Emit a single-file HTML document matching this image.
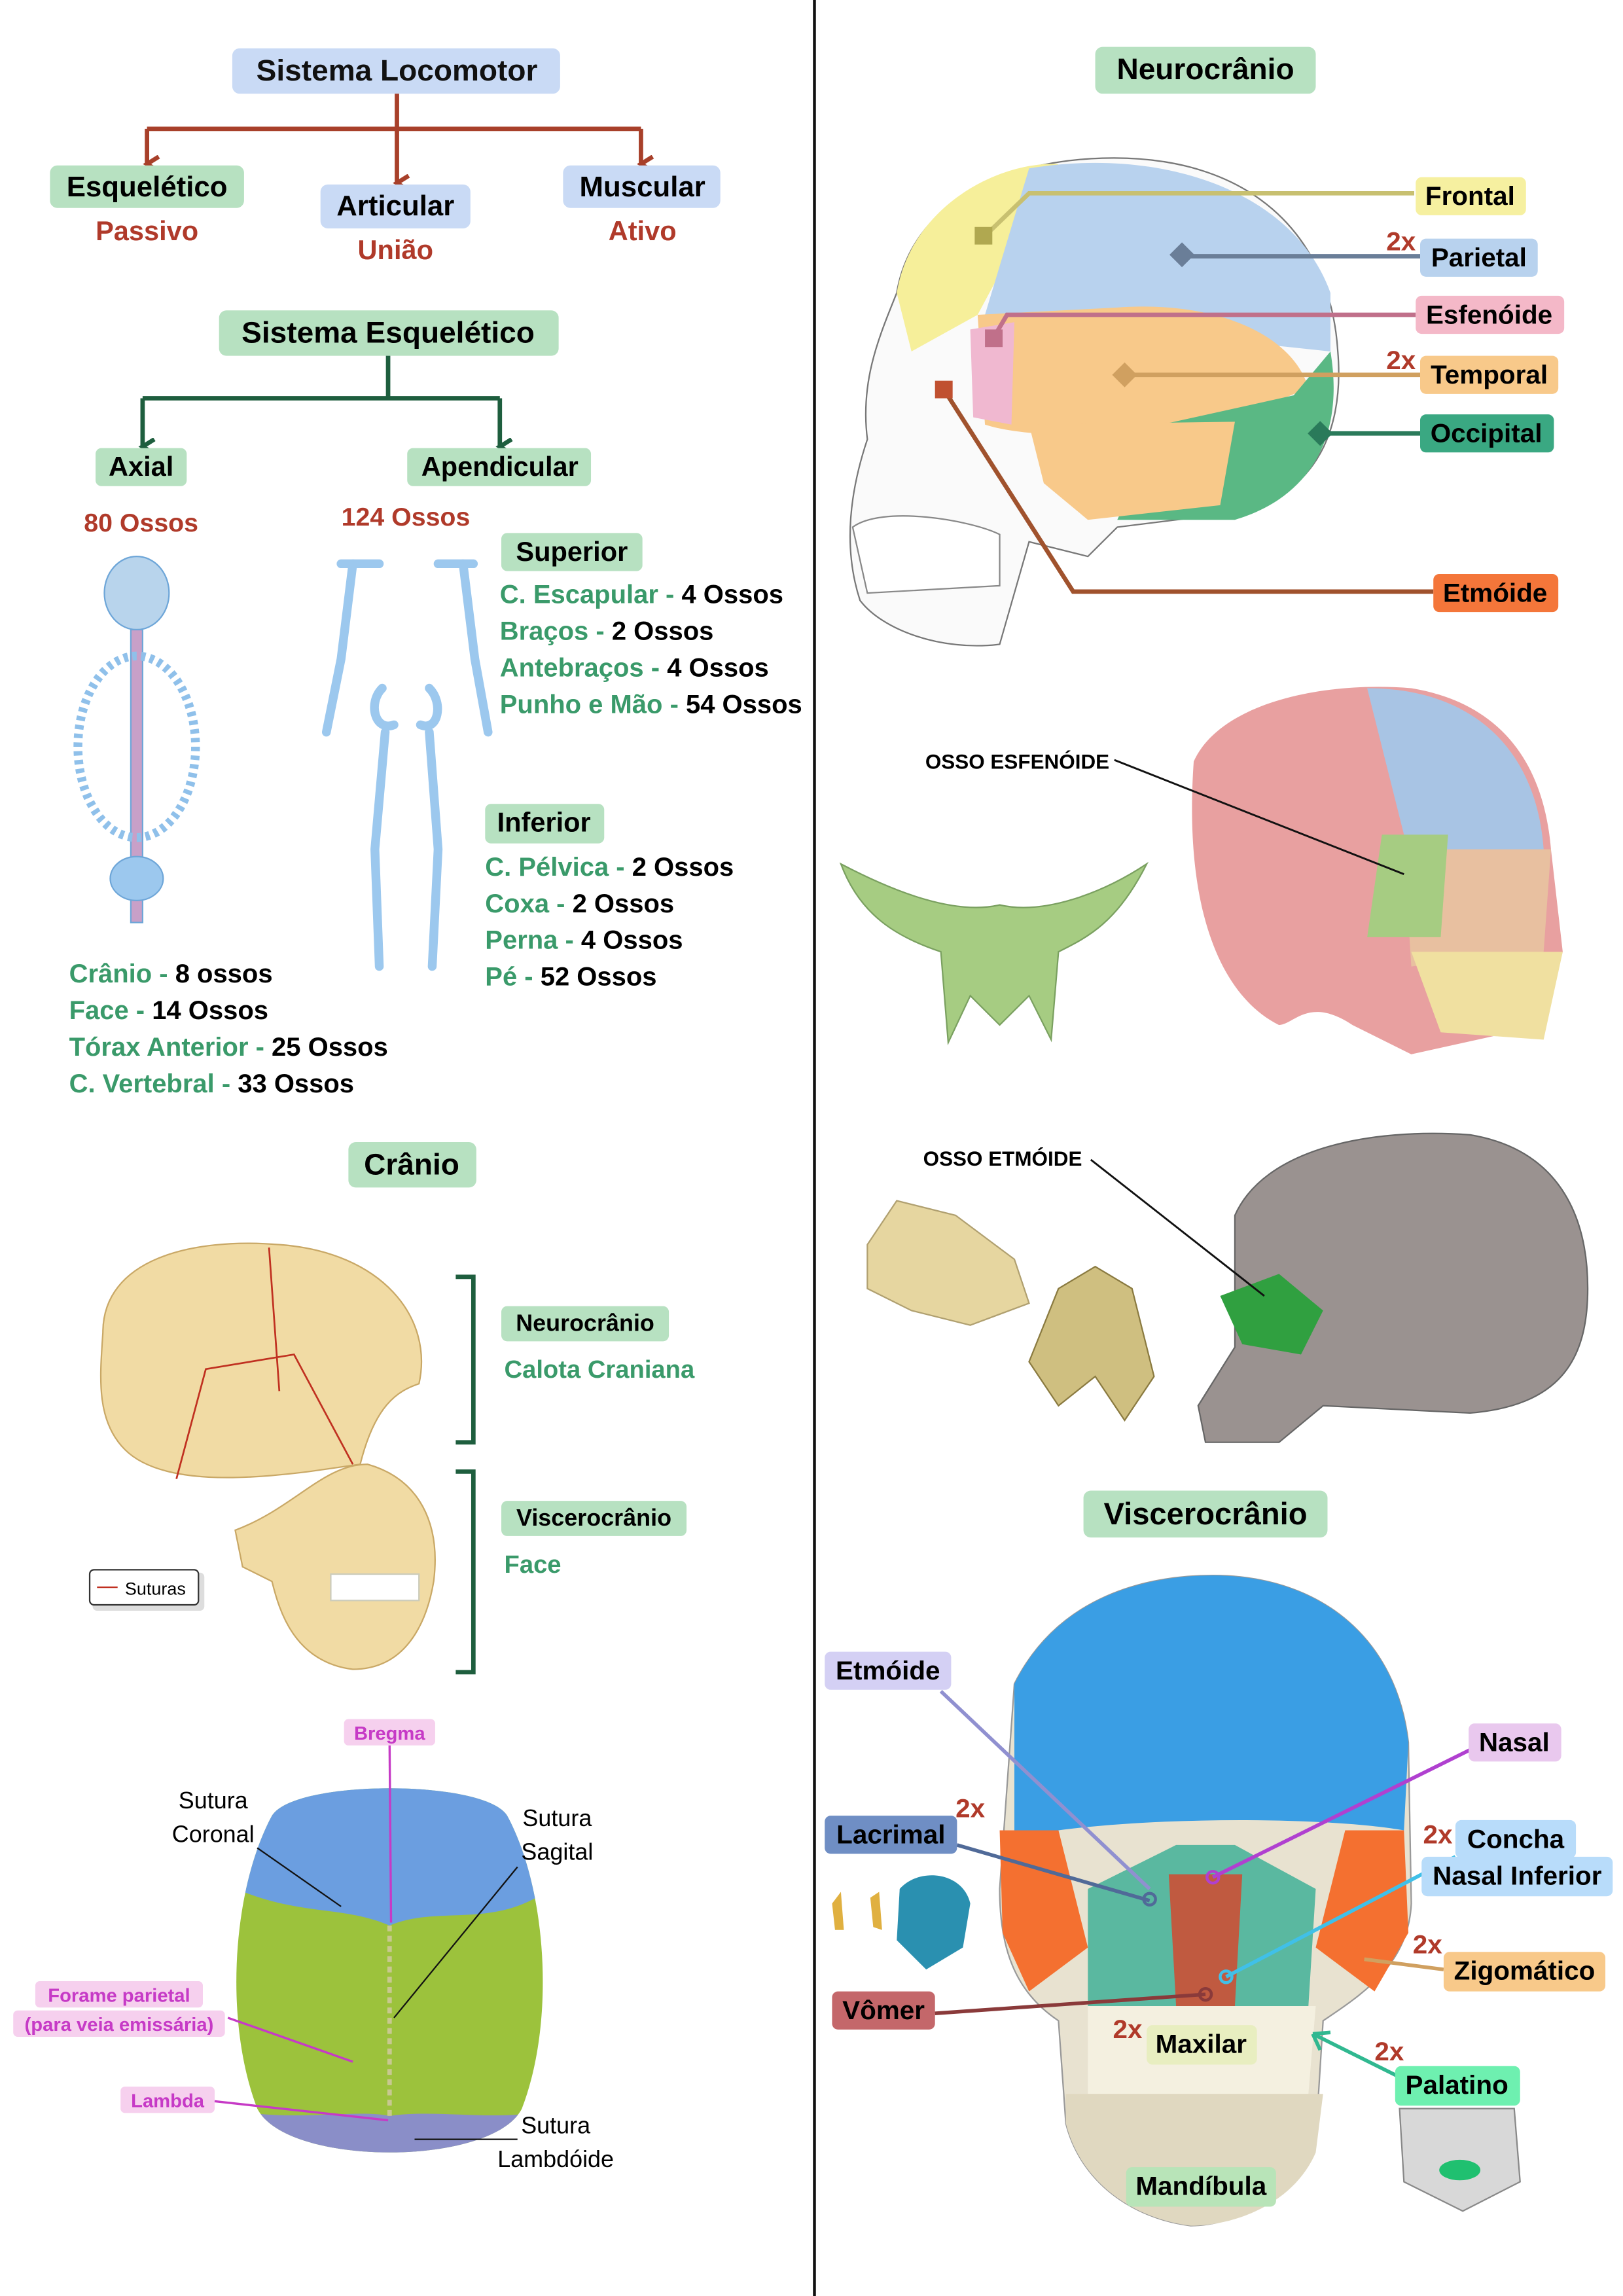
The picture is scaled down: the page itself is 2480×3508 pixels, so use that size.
<!DOCTYPE html>
<html><head><meta charset="utf-8">
<style>
html,body{margin:0;padding:0;background:#fff;}
svg{display:block;}
text{font-family:"Liberation Sans",sans-serif;}
.b{font-weight:bold;}
</style></head>
<body>
<svg width="2480" height="3508" viewBox="0 0 1104 1568" preserveAspectRatio="none" xmlns="http://www.w3.org/2000/svg">
<defs>
<marker id="ar" markerWidth="14" markerHeight="12" refX="6" refY="9" orient="auto" markerUnits="userSpaceOnUse"><path d="M1,1 L6,9 L11,1" fill="none" stroke="#a8402a" stroke-width="3"/></marker>
<marker id="ag" markerWidth="14" markerHeight="12" refX="6" refY="9" orient="auto" markerUnits="userSpaceOnUse"><path d="M1,1 L6,9 L11,1" fill="none" stroke="#1e5e3e" stroke-width="3"/></marker>
</defs>
<rect width="1104" height="1568" fill="#fff"/>
<line x1="554" y1="0" x2="554" y2="1568" stroke="#111" stroke-width="2"/>

<!-- LEFT TOP -->
<rect x="158" y="33" width="223" height="31" rx="5" fill="#c9daf5"/>
<text x="270" y="55" text-anchor="middle" font-size="20.5" class="b" fill="#111">Sistema Locomotor</text>
<g stroke="#a8402a" stroke-width="3" fill="none">
<path d="M270,64 V88 M100,88 H436"/>
<path d="M100,88 V112" marker-end="url(#ar)"/><path d="M270,88 V125" marker-end="url(#ar)"/><path d="M436,88 V112" marker-end="url(#ar)"/>
</g>
<rect x="34" y="113" width="132" height="29" rx="5" fill="#b7e1c1"/>
<text x="100" y="134" text-anchor="middle" font-size="19.5" class="b">Esquelético</text>
<text x="100" y="164" text-anchor="middle" font-size="18.5" class="b" fill="#b03a2a">Passivo</text>
<rect x="218" y="126" width="102" height="30" rx="5" fill="#c9daf5"/>
<text x="269" y="147" text-anchor="middle" font-size="19.5" class="b">Articular</text>
<text x="269" y="177" text-anchor="middle" font-size="18.5" class="b" fill="#b03a2a">União</text>
<rect x="383" y="113" width="107" height="29" rx="5" fill="#c9daf5"/>
<text x="437" y="134" text-anchor="middle" font-size="19.5" class="b">Muscular</text>
<text x="437" y="164" text-anchor="middle" font-size="18.5" class="b" fill="#b03a2a">Ativo</text>

<rect x="149" y="212" width="231" height="31" rx="5" fill="#b7e1c1"/>
<text x="264" y="234" text-anchor="middle" font-size="20.5" class="b">Sistema Esquelético</text>
<g stroke="#1e5e3e" stroke-width="3" fill="none">
<path d="M264,243 V272 M97,272 H340"/>
<path d="M97,272 V305" marker-end="url(#ag)"/><path d="M340,272 V305" marker-end="url(#ag)"/>
</g>
<rect x="65" y="306" width="62" height="26" rx="4" fill="#b7e1c1"/>
<text x="96" y="325" text-anchor="middle" font-size="18.5" class="b">Axial</text>
<rect x="277" y="306" width="125" height="26" rx="4" fill="#b7e1c1"/>
<text x="340" y="325" text-anchor="middle" font-size="18.5" class="b">Apendicular</text>
<text x="96" y="363" text-anchor="middle" font-size="17.5" class="b" fill="#b03a2a">80 Ossos</text>
<text x="276" y="359" text-anchor="middle" font-size="17.5" class="b" fill="#b03a2a">124 Ossos</text>

<!-- axial skeleton -->
<g fill="#9cc8ee" stroke="#6ea6d8" stroke-width="1">
<ellipse cx="93" cy="405" rx="22" ry="25" fill="#b8d4ec"/>
<rect x="89" y="430" width="8" height="200" fill="#c8a0c8"/>
<ellipse cx="93" cy="510" rx="40" ry="62" fill="none" stroke="#8fc0ea" stroke-width="6" stroke-dasharray="3 3"/>
<ellipse cx="93" cy="600" rx="18" ry="15"/>
</g>
<!-- appendicular skeleton -->
<g fill="none" stroke="#9cc8ee" stroke-width="6" stroke-linecap="round">
<path d="M240,385 L232,450 L222,500 M315,385 L323,450 L332,500"/>
<path d="M260,470 C250,480 255,500 268,495 M292,470 C302,480 298,500 286,495"/>
<path d="M262,500 L255,580 L258,660 M292,500 L298,580 L294,660"/>
<path d="M232,385 L258,385 M298,385 L322,385"/>
</g>

<rect x="341" y="364" width="96" height="26" rx="4" fill="#b7e1c1"/>
<text x="389" y="383" text-anchor="middle" font-size="18.5" class="b">Superior</text>
<g font-size="17.8" class="b">
<text x="340" y="412"><tspan fill="#3a9a6a">C. Escapular - </tspan>4 Ossos</text>
<text x="340" y="437"><tspan fill="#3a9a6a">Braços - </tspan>2 Ossos</text>
<text x="340" y="462"><tspan fill="#3a9a6a">Antebraços - </tspan>4 Ossos</text>
<text x="340" y="487"><tspan fill="#3a9a6a">Punho e Mão - </tspan>54 Ossos</text>
</g>
<rect x="330" y="549" width="81" height="27" rx="4" fill="#b7e1c1"/>
<text x="370" y="568" text-anchor="middle" font-size="18.5" class="b">Inferior</text>
<g font-size="17.8" class="b">
<text x="330" y="598"><tspan fill="#3a9a6a">C. Pélvica - </tspan>2 Ossos</text>
<text x="330" y="623"><tspan fill="#3a9a6a">Coxa - </tspan>2 Ossos</text>
<text x="330" y="648"><tspan fill="#3a9a6a">Perna - </tspan>4 Ossos</text>
<text x="330" y="673"><tspan fill="#3a9a6a">Pé - </tspan>52 Ossos</text>
<text x="47" y="671"><tspan fill="#3a9a6a">Crânio - </tspan>8 ossos</text>
<text x="47" y="696"><tspan fill="#3a9a6a">Face - </tspan>14 Ossos</text>
<text x="47" y="721"><tspan fill="#3a9a6a">Tórax Anterior - </tspan>25 Ossos</text>
<text x="47" y="746"><tspan fill="#3a9a6a">C. Vertebral - </tspan>33 Ossos</text>
</g>

<!-- Cranio -->
<rect x="237" y="780" width="87" height="31" rx="5" fill="#b7e1c1"/>
<text x="280" y="802" text-anchor="middle" font-size="20.5" class="b">Crânio</text>
<path d="M70,910 C70,860 130,845 190,850 C260,855 295,900 285,945 C270,950 255,960 245,1000 L210,1005 C170,1010 110,1015 85,990 C65,970 68,940 70,910Z" fill="#f1dba4" stroke="#c9a866"/>
<path d="M183,852 L190,950 M120,1010 L140,935 L200,925 L240,1000" fill="none" stroke="#c03020" stroke-width="1.2"/>
<path d="M160,1045 C200,1030 220,1000 250,1000 C285,1010 300,1040 295,1080 C290,1110 275,1140 240,1140 C200,1135 190,1100 185,1080 L165,1070Z" fill="#f1dba4" stroke="#c9a866"/>
<rect x="225" y="1075" width="60" height="18" fill="#fff" stroke="#ccb"/>
<g fill="none" stroke="#1e5e3e" stroke-width="3">
<path d="M310,872 H322 V985 H310"/><path d="M310,1005 H322 V1142 H310"/>
</g>
<rect x="341" y="892" width="114" height="24" rx="4" fill="#b7e1c1"/>
<text x="398" y="909" text-anchor="middle" font-size="16" class="b">Neurocrânio</text>
<text x="343" y="941" font-size="17" class="b" fill="#3a9a6a">Calota Craniana</text>
<rect x="341" y="1025" width="126" height="24" rx="4" fill="#b7e1c1"/>
<text x="404" y="1042" text-anchor="middle" font-size="16" class="b">Viscerocrânio</text>
<text x="343" y="1074" font-size="17" class="b" fill="#3a9a6a">Face</text>
<rect x="63" y="1074" width="76" height="26" rx="3" fill="#ddd"/>
<rect x="61" y="1072" width="74" height="24" rx="3" fill="#fff" stroke="#333"/>
<line x1="66" y1="1084" x2="80" y2="1084" stroke="#c03020"/>
<text x="85" y="1089" font-size="12">Suturas</text>

<!-- top view skull -->
<rect x="234" y="1174" width="62" height="18" rx="3" fill="#f6d0ee"/>
<text x="265" y="1188" text-anchor="middle" font-size="13" class="b" fill="#c63ac6">Bregma</text>
<clipPath id="sk"><path d="M185,1240 C200,1215 330,1215 345,1240 C372,1290 378,1380 355,1440 C335,1480 195,1480 175,1440 C152,1380 158,1290 185,1240Z"/></clipPath>
<g clip-path="url(#sk)">
<rect x="150" y="1210" width="230" height="280" fill="#9cc23c"/>
<path d="M150,1210 H380 V1285 C340,1320 300,1300 265,1315 C230,1300 200,1310 150,1285Z" fill="#6b9ee0"/>
<path d="M150,1440 C200,1450 240,1440 265,1445 C300,1440 340,1450 380,1440 V1490 H150Z" fill="#8a8ec8"/>
</g>
<path d="M265,1315 L265,1445" stroke="#c8c890" stroke-width="3" stroke-dasharray="4 3"/>
<text x="145" y="1235" text-anchor="middle" font-size="16">Sutura</text>
<text x="145" y="1258" text-anchor="middle" font-size="16">Coronal</text>
<line x1="175" y1="1262" x2="232" y2="1302" stroke="#111"/>
<text x="379" y="1247" text-anchor="middle" font-size="16">Sutura</text>
<text x="379" y="1270" text-anchor="middle" font-size="16">Sagital</text>
<line x1="352" y1="1275" x2="268" y2="1378" stroke="#111"/>
<line x1="265" y1="1192" x2="266" y2="1313" stroke="#c63ac6" stroke-width="1.5"/>
<rect x="24" y="1353" width="114" height="18" rx="3" fill="#f6d0ee"/>
<text x="81" y="1367" text-anchor="middle" font-size="13" class="b" fill="#c63ac6">Forame parietal</text>
<rect x="9" y="1373" width="144" height="18" rx="3" fill="#f6d0ee"/>
<text x="81" y="1387" text-anchor="middle" font-size="13" class="b" fill="#c63ac6">(para veia emissária)</text>
<line x1="155" y1="1378" x2="240" y2="1408" stroke="#c63ac6" stroke-width="1.5"/>
<rect x="82" y="1425" width="64" height="18" rx="3" fill="#f6d0ee"/>
<text x="114" y="1439" text-anchor="middle" font-size="13" class="b" fill="#c63ac6">Lambda</text>
<line x1="146" y1="1435" x2="264" y2="1448" stroke="#c63ac6" stroke-width="1.5"/>
<text x="378" y="1457" text-anchor="middle" font-size="16">Sutura</text>
<text x="378" y="1480" text-anchor="middle" font-size="16">Lambdóide</text>
<line x1="352" y1="1461" x2="282" y2="1461" stroke="#111"/>

<!-- RIGHT: Neurocranio -->
<rect x="745" y="32" width="150" height="32" rx="5" fill="#b7e1c1"/>
<text x="820" y="54" text-anchor="middle" font-size="20.5" class="b">Neurocrânio</text>
<path d="M610,200 C620,140 680,110 750,108 C850,105 905,160 910,240 C915,300 890,340 840,350 L760,360 L740,380 L700,370 L680,440 C640,445 600,430 585,410 C572,370 580,330 590,300 C585,260 598,230 610,200Z" fill="#fafafa" stroke="#777"/>
<path d="M610,200 C620,140 680,110 720,112 L665,215 L620,240Z" fill="#f6ef9a"/>
<path d="M700,115 C790,100 880,130 905,200 L905,240 L670,215 Z" fill="#b8d2ee"/>
<path d="M665,215 L760,210 C830,205 880,230 890,265 L830,290 C780,300 700,300 670,290Z" fill="#f8c98a"/>
<path d="M660,225 L690,220 L688,290 L662,285Z" fill="#f0b8d0"/>
<path d="M905,240 C915,300 890,340 840,355 L760,355 L790,290 L880,270Z" fill="#5ab884"/>
<path d="M700,290 L840,288 L830,345 L740,355 L710,330Z" fill="#f8c98a"/>
<path d="M580,360 C600,345 660,355 680,365 L680,400 L590,405Z" fill="#fff" stroke="#888"/>
<g stroke-width="3" fill="none">
<path d="M668,163 L700,132 H962" stroke="#c8c070"/>
<path d="M805,175 H966" stroke="#6a7e98"/>
<path d="M675,232 L685,215 H963" stroke="#c0708a"/>
<path d="M765,256 H966" stroke="#d0a060"/>
<path d="M898,296 H966" stroke="#2a7a5a"/>
<path d="M642,266 L730,404 H975" stroke="#a0522d"/>
</g>
<rect x="663" y="155" width="12" height="12" fill="#b0a850"/>
<rect x="798" y="168" width="12" height="12" fill="#6a7e98" transform="rotate(45 804 174)"/>
<rect x="670" y="225" width="12" height="12" fill="#c0708a"/>
<rect x="759" y="250" width="12" height="12" fill="#d0a060" transform="rotate(45 765 256)"/>
<rect x="892" y="290" width="12" height="12" fill="#2a7a5a" transform="rotate(45 898 296)"/>
<rect x="636" y="260" width="12" height="12" fill="#c05030"/>

<g font-size="18" class="b">
<rect x="963" y="121" width="75" height="26" rx="4" fill="#f6f0a0"/><text x="1000" y="140" text-anchor="middle">Frontal</text>
<text x="953" y="171" text-anchor="middle" fill="#b03a2a">2x</text>
<rect x="966" y="163" width="80" height="26" rx="4" fill="#b8d2ee"/><text x="1006" y="182" text-anchor="middle">Parietal</text>
<rect x="963" y="202" width="101" height="26" rx="4" fill="#f4b8c8"/><text x="1013" y="221" text-anchor="middle">Esfenóide</text>
<text x="953" y="252" text-anchor="middle" fill="#b03a2a">2x</text>
<rect x="966" y="243" width="94" height="26" rx="4" fill="#f8c98a"/><text x="1013" y="262" text-anchor="middle">Temporal</text>
<rect x="966" y="283" width="91" height="26" rx="4" fill="#3aa882"/><text x="1011" y="302" text-anchor="middle">Occipital</text>
<rect x="975" y="392" width="85" height="26" rx="4" fill="#f4763a"/><text x="1017" y="411" text-anchor="middle">Etmóide</text>
</g>

<!-- sphenoid -->
<path d="M572,590 C610,610 650,625 680,618 C710,625 750,610 780,590 C760,630 740,640 720,650 L715,710 L700,680 L680,700 L660,680 L645,712 L640,650 C610,640 585,625 572,590Z" fill="#a6cc82" stroke="#7aa060"/>
<path d="M812,520 C830,480 900,465 960,470 C1020,480 1050,520 1055,580 L1063,650 L1050,700 L960,720 L920,700 C890,680 880,700 870,700 C830,680 805,620 812,520Z" fill="#e8a0a0"/>
<path d="M930,470 C1000,470 1045,510 1050,580 L960,590 Z" fill="#a8c4e4"/>
<path d="M955,580 L1055,580 L1050,650 L960,660Z" fill="#e8c0a0"/>
<path d="M940,570 L985,570 L980,640 L930,640Z" fill="#a6cc82"/>
<path d="M960,650 L1063,650 L1050,710 L980,705Z" fill="#f0e0a0"/>
<text x="692" y="525" text-anchor="middle" font-size="14" class="b">OSSO ESFENÓIDE</text>
<line x1="758" y1="519" x2="955" y2="597" stroke="#111" stroke-width="1.3"/>

<!-- ethmoid -->
<path d="M590,850 L610,820 L650,830 L690,860 L700,890 L660,905 L620,895 L590,880Z" fill="#e6d6a0" stroke="#b0a070"/>
<path d="M720,880 L745,865 L770,880 L785,940 L765,970 L745,940 L720,960 L700,930Z" fill="#cfbf80" stroke="#8a7a40"/>
<path d="M840,830 C860,785 930,770 1000,775 C1060,785 1080,830 1080,880 C1080,930 1060,960 1000,965 L900,960 L870,985 L820,985 L815,960 L840,920 Z" fill="#9a9290" stroke="#666"/>
<path d="M830,885 L870,870 L900,895 L885,925 L845,918Z" fill="#30a040"/>
<text x="682" y="796" text-anchor="middle" font-size="14" class="b">OSSO ETMÓIDE</text>
<line x1="742" y1="792" x2="860" y2="885" stroke="#111" stroke-width="1.3"/>

<!-- Viscerocranio -->
<rect x="737" y="1018" width="166" height="32" rx="5" fill="#b7e1c1"/>
<text x="820" y="1041" text-anchor="middle" font-size="21" class="b">Viscerocrânio</text>
<path d="M690,1150 C720,1090 780,1075 830,1076 C900,1078 950,1120 958,1190 L960,1300 C958,1340 930,1360 900,1380 L895,1460 C880,1500 840,1520 810,1520 C770,1515 735,1490 725,1450 L720,1380 C690,1360 680,1330 680,1290Z" fill="#e8e2d0" stroke="#999"/>
<path d="M690,1150 C720,1090 780,1075 830,1076 C900,1078 950,1120 958,1190 L955,1250 C900,1240 760,1240 690,1255Z" fill="#3a9ee4"/>
<path d="M680,1250 L720,1250 L740,1330 L700,1360 L682,1320Z" fill="#f47030"/>
<path d="M955,1250 L915,1250 L895,1330 L935,1360 L958,1320Z" fill="#f47030"/>
<path d="M740,1290 L800,1260 L840,1260 L895,1290 L890,1370 L740,1370Z" fill="#5ab8a0"/>
<path d="M795,1280 L845,1280 L840,1370 L800,1370Z" fill="#c05a40"/>
<path d="M740,1370 L895,1370 L890,1430 L740,1430Z" fill="#f4f0e0"/>
<path d="M725,1430 L900,1430 L895,1470 C880,1505 840,1520 810,1520 C770,1515 735,1490 725,1450Z" fill="#e0d8c0"/>

<g stroke-width="2.5" fill="none">
<line x1="640" y1="1155" x2="782" y2="1290" stroke="#9090d0"/>
<line x1="651" y1="1260" x2="782" y2="1298" stroke="#506a98"/>
<line x1="636" y1="1375" x2="820" y2="1362" stroke="#8a3a3a"/>
<line x1="1000" y1="1195" x2="825" y2="1282" stroke="#b040d0"/>
<line x1="990" y1="1268" x2="834" y2="1350" stroke="#40c0e8"/>
<line x1="982" y1="1345" x2="928" y2="1338" stroke="#d0a060"/>
<path d="M955,1420 L895,1390" stroke="#30b890"/><path d="M893,1389 L905,1388 M893,1389 L898,1400" stroke="#30b890"/>
</g>
<circle cx="782" cy="1297" r="4" fill="none" stroke="#506a98" stroke-width="2"/>
<circle cx="825" cy="1282" r="4" fill="none" stroke="#b040d0" stroke-width="2"/>
<circle cx="834" cy="1350" r="4" fill="none" stroke="#40c0e8" stroke-width="2"/>
<circle cx="820" cy="1362" r="4" fill="none" stroke="#8a3a3a" stroke-width="2"/>
<g font-size="18" class="b">
<rect x="561" y="1128" width="86" height="26" rx="4" fill="#d4d0f4"/><text x="604" y="1147" text-anchor="middle">Etmóide</text>
<text x="660" y="1241" text-anchor="middle" fill="#b03a2a">2x</text>
<rect x="561" y="1240" width="90" height="26" rx="4" fill="#6f8ec4"/><text x="606" y="1259" text-anchor="middle">Lacrimal</text>
<rect x="566" y="1360" width="70" height="26" rx="4" fill="#c4676a"/><text x="601" y="1379" text-anchor="middle">Vômer</text>
<rect x="999" y="1177" width="63" height="26" rx="4" fill="#e9c8ee"/><text x="1030" y="1196" text-anchor="middle">Nasal</text>
<text x="978" y="1259" text-anchor="middle" fill="#b03a2a">2x</text>
<rect x="990" y="1243" width="82" height="26" rx="4" fill="#b8dcfa"/><text x="1031" y="1262" text-anchor="middle">Concha</text>
<rect x="967" y="1268" width="130" height="27" rx="4" fill="#b8dcfa"/><text x="1032" y="1287" text-anchor="middle">Nasal Inferior</text>
<text x="971" y="1334" text-anchor="middle" fill="#b03a2a">2x</text>
<rect x="982" y="1333" width="110" height="27" rx="4" fill="#f8c98a"/><text x="1037" y="1352" text-anchor="middle">Zigomático</text>
<text x="945" y="1407" text-anchor="middle" fill="#b03a2a">2x</text>
<rect x="949" y="1411" width="85" height="27" rx="4" fill="#6ef0b0"/><text x="991" y="1430" text-anchor="middle">Palatino</text>
<text x="767" y="1392" text-anchor="middle" fill="#b03a2a">2x</text>
<rect x="780" y="1383" width="75" height="27" rx="4" fill="#e8eec0"/><text x="817" y="1402" text-anchor="middle">Maxilar</text>
<rect x="766" y="1480" width="102" height="27" rx="4" fill="#b8e4b8"/><text x="817" y="1499" text-anchor="middle">Mandíbula</text>
</g>
<path d="M612,1290 C625,1275 655,1278 660,1300 L655,1330 L630,1345 L610,1325Z" fill="#2a90b0"/>
<path d="M566,1300 L572,1292 L574,1318 L568,1318Z M592,1296 L598,1292 L600,1318 L594,1316Z" fill="#e0b040"/>
<path d="M952,1440 L1030,1440 L1034,1490 L995,1510 L955,1490Z" fill="#d8d8d8" stroke="#888"/>
<ellipse cx="993" cy="1482" rx="14" ry="7" fill="#20c070"/>
</svg>
</body></html>
